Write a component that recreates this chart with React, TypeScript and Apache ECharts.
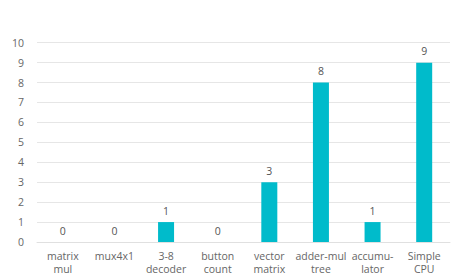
import React, { useEffect, useRef } from "react";
import * as echarts from "echarts";

const categories = [
  "matrix\nmul",
  "mux4x1",
  "3-8\ndecoder",
  "button\ncount",
  "vector\nmatrix",
  "adder-mul\ntree",
  "accumu-\nlator",
  "Simple\nCPU",
];
const values = [0, 0, 1, 0, 3, 8, 1, 9];
const yTicks = { min: 0, max: 10, interval: 1 };

const FONT = "'Open Sans', sans-serif";

export default function App() {
  const ref = useRef<HTMLDivElement>(null);
  useEffect(() => {
    if (!ref.current) return;
    const chart = echarts.init(ref.current, undefined, { renderer: "svg" });
    chart.setOption({
      animation: false,
      textStyle: { fontFamily: FONT },
      grid: { left: 37, right: 14, top: 42.7, bottom: 31.7, containLabel: false },
      xAxis: {
        type: "category",
        data: categories,
        axisLine: { show: true, lineStyle: { color: "#e0e0e0" } },
        axisTick: { show: false },
        axisLabel: {
          color: "#666",
          fontSize: 10.5,
          fontFamily: FONT,
          margin: 8,
          lineHeight: 12.5,
          interval: 0,
        },
      },
      yAxis: {
        type: "value",
        min: yTicks.min,
        max: yTicks.max,
        interval: yTicks.interval,
        axisLine: { show: false },
        axisTick: { show: false },
        splitLine: { lineStyle: { color: "#e6e6e6" } },
        axisLabel: { color: "#666", fontSize: 10.5, fontFamily: FONT, margin: 13 },
      },
      series: [
        {
          type: "bar",
          data: values,
          barWidth: 16,
          itemStyle: { color: "#00BBCB" },
          label: {
            show: true,
            position: "top",
            color: "#555",
            fontSize: 10.5,
            fontFamily: FONT,
            distance: 6,
          },
        },
      ],
    });
    return () => chart.dispose();
  }, []);
  return (
    <div
      ref={ref}
      style={{ position: "absolute", left: 0, top: 0, width: 464, height: 275 }}
    />
  );
}
